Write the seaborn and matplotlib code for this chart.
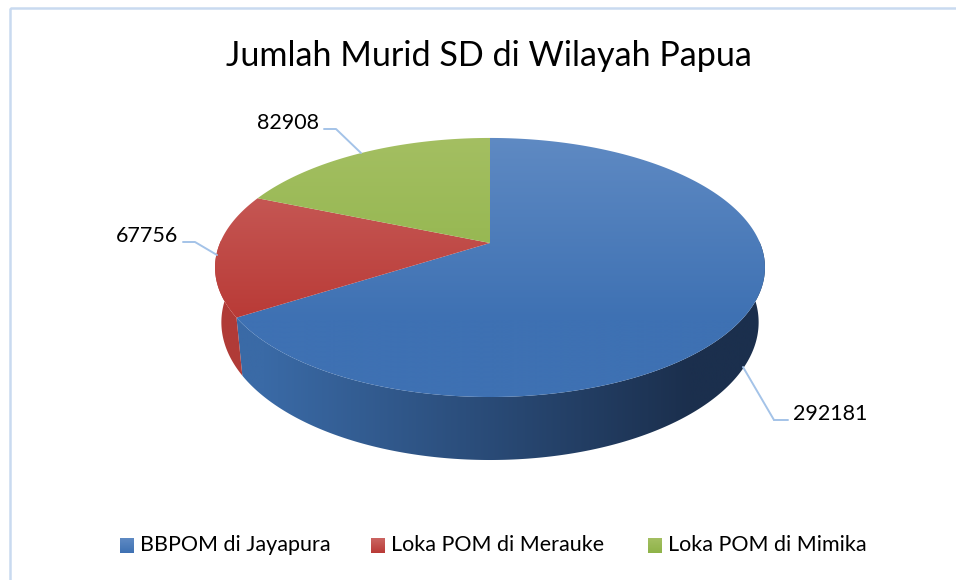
import numpy as np
import pandas as pd
import matplotlib
matplotlib.use("Agg")
import matplotlib.pyplot as plt
from matplotlib.colors import LinearSegmentedColormap
from matplotlib.patches import Polygon, Rectangle
import seaborn as sns

title = "Jumlah Murid SD di Wilayah Papua"
labels = ["BBPOM di Jayapura", "Loka POM di Merauke", "Loka POM di Mimika"]
values = [292181, 67756, 82908]

top_light = ["#5f8ac3", "#cb6562", "#a4bf62"]
top_dark = ["#3e71b3", "#b93a36", "#8eb348"]
side_left = ["#3a6aa6", "#b03b37", "#7f9c43"]
side_right = ["#1b2f4d", "#8f2c29", "#5f7832"]

sns.set_theme(style="white")
plt.rcParams["font.family"] = ["Lato", "DejaVu Sans"]

df = pd.DataFrame({"label": labels, "value": values})
df["share"] = df["value"] / df["value"].sum()
df["end"] = df["share"].cumsum() * 2 * np.pi
df["start"] = df["end"] - df["share"] * 2 * np.pi

# pie geometry in pixels, perspective squeeze on the far side
cx, cy = 490, 243
A, B, k = 270, 124.9, -0.189


def rim(theta):
    u = np.sin(theta)
    v = -np.cos(theta)
    d = 1 + k * v
    return cx + A * u / d, cy + B * v / d


def lower(x, y):
    return cx + (x - cx) * 0.977, y + 58 + (y - 318) * 5 / 79


def gradient(ax, poly, c1, c2, extent):
    cmap = LinearSegmentedColormap.from_list("g", [c1, c2])
    grad = np.linspace(0, 1, 256).reshape(-1, 1)
    im = ax.imshow(grad, cmap=cmap, extent=extent, aspect="auto", zorder=3)
    ax.add_patch(poly)
    im.set_clip_path(poly)


fig = plt.figure(figsize=(9.56, 5.8), dpi=100)
ax = fig.add_axes([0, 0, 1, 1])
ax.axis("off")

# chart frame
ax.add_patch(Rectangle((10, 8), 1200, 1200, fill=False, ec="#c9daf0", lw=1.8, zorder=1))

# side walls, only the part turned towards the viewer
for i, row in df.iterrows():
    t = np.linspace(row["start"], row["end"], 400)
    t = t[np.cos(t) < 0.02]
    if len(t) == 0:
        continue
    xs, ys = rim(t)
    xb, yb = lower(xs, ys)
    pts = np.r_[np.c_[xs, ys], np.c_[xb, yb][::-1]]
    poly = Polygon(pts, closed=True, fc="none", ec="none", zorder=2)
    cmap = LinearSegmentedColormap.from_list("s", [side_left[i], side_right[i]])
    grad = np.clip((np.linspace(0, 1, 256) - 0.05) / 0.8, 0, 1).reshape(1, -1)
    im = ax.imshow(grad, cmap=cmap, vmin=0, vmax=1, aspect="auto", zorder=2,
                   extent=(xs.min() - 1, max(xs.max(), 770) + 1, 470, 130))
    ax.add_patch(poly)
    im.set_clip_path(poly)

# top faces
for i, row in df.iterrows():
    t = np.linspace(row["start"], row["end"], 300)
    xs, ys = rim(t)
    pts = np.r_[[[cx, cy]], np.c_[xs, ys]]
    poly = Polygon(pts, closed=True, fc="none", ec="none", zorder=3)
    gradient(ax, poly, top_light[i], top_dark[i], (200, 780, 320, 136))
    # below the gradient the colour stays flat
    low = Polygon(pts, closed=True, fc="none", ec="none", zorder=3)
    gradient(ax, low, top_dark[i], top_dark[i], (200, 780, 400, 320))

# leader lines and data labels
ax.plot([774, 743], [420, 367], color="#a4c3e8", lw=1.4, zorder=4)
ax.plot([788, 774], [420, 420], color="#a4c3e8", lw=1.4, zorder=4)
ax.plot([324, 336, 361], [129, 129, 153], color="#a4c3e8", lw=1.4, zorder=4)
ax.plot([183, 195, 217], [242, 242, 255], color="#a4c3e8", lw=1.4, zorder=4)
ax.text(793, 414, str(values[0]), fontsize=15.5, color="black", va="center", ha="left", zorder=5)
ax.text(178, 236, str(values[1]), fontsize=15.5, color="black", va="center", ha="right", zorder=5)
ax.text(319, 123, str(values[2]), fontsize=15.5, color="black", va="center", ha="right", zorder=5)

ax.text(489, 56, title, fontsize=24.6, color="black", va="center", ha="center", zorder=5)

# legend
for i, (x0, tx) in enumerate(zip([120, 371, 648], [140, 391, 668])):
    sq = Polygon([[x0, 538], [x0 + 14.5, 538], [x0 + 14.5, 553], [x0, 553]], closed=True,
                 fc="none", ec="none", zorder=3)
    gradient(ax, sq, top_light[i], top_dark[i], (x0, x0 + 14.5, 553, 538))
    ax.text(tx, 545, labels[i], fontsize=15.5, color="black", va="center", ha="left", zorder=5)

ax.set_xlim(0, 956)
ax.set_ylim(580, 0)

fig.savefig("out.png", dpi=100)
